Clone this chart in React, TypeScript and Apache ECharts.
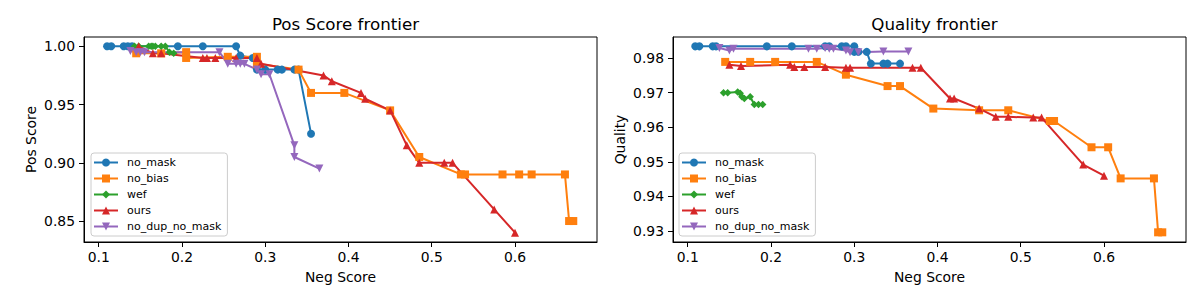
import React, { useEffect, useRef } from "react";
import * as echarts from "echarts";

const seriesNames = ["no_mask", "no_bias", "wef", "ours", "no_dup_no_mask"];
const seriesColors = ["#1f77b4", "#ff7f0e", "#2ca02c", "#d62728", "#9467bd"];
const seriesSymbols = ["circle", "rect", "diamond", "triangle", "triangle"];
const seriesRotations = [0, 0, 0, 0, 180];

// Pos Score frontier: [Neg Score, Pos Score]
const noMaskPos = [
  [0.11, 1.0], [0.115, 1.0], [0.13, 1.0], [0.135, 1.0], [0.14, 1.0], [0.195, 1.0],
  [0.225, 1.0], [0.265, 1.0], [0.27, 0.992], [0.285, 0.99], [0.29, 0.98], [0.3, 0.98],
  [0.315, 0.98], [0.32, 0.98], [0.335, 0.98], [0.34, 0.98], [0.355, 0.925],
];
const noBiasPos = [
  [0.145, 0.994], [0.175, 0.994], [0.205, 0.995], [0.205, 0.99], [0.255, 0.991],
  [0.29, 0.991], [0.29, 0.985], [0.34, 0.98], [0.355, 0.96], [0.395, 0.96],
  [0.45, 0.945], [0.485, 0.905], [0.535, 0.89], [0.54, 0.89], [0.585, 0.89],
  [0.605, 0.89], [0.62, 0.89], [0.66, 0.89], [0.665, 0.85], [0.67, 0.85],
];
const wefPos = [
  [0.143, 1.0], [0.148, 1.0], [0.16, 1.0], [0.163, 1.0], [0.165, 1.0], [0.168, 1.0],
  [0.175, 1.0], [0.18, 1.0], [0.185, 0.995], [0.19, 0.994],
];
const oursPos = [
  [0.148, 1.0], [0.165, 0.994], [0.175, 0.994], [0.225, 0.99], [0.23, 0.99], [0.24, 0.99],
  [0.265, 0.99], [0.29, 0.99], [0.295, 0.985], [0.37, 0.975], [0.38, 0.97], [0.415, 0.96],
  [0.42, 0.955], [0.45, 0.945], [0.47, 0.915], [0.485, 0.9], [0.515, 0.9], [0.525, 0.9],
  [0.575, 0.86], [0.6, 0.84],
];
const noDupNoMaskPos = [
  [0.138, 0.996], [0.145, 0.995], [0.15, 0.995], [0.155, 0.995], [0.245, 0.995],
  [0.255, 0.985], [0.265, 0.985], [0.27, 0.985], [0.275, 0.985], [0.29, 0.98],
  [0.295, 0.976], [0.305, 0.976], [0.335, 0.915], [0.335, 0.905], [0.365, 0.895],
];

// Quality frontier: [Neg Score, Quality]
const noMaskQuality = [
  [0.109, 0.9834], [0.114, 0.9834], [0.13, 0.9834], [0.134, 0.9834], [0.195, 0.9834],
  [0.225, 0.9834], [0.265, 0.9834], [0.27, 0.9834], [0.285, 0.9834], [0.29, 0.9834],
  [0.3, 0.9834], [0.3, 0.9818], [0.305, 0.9818], [0.315, 0.9818], [0.32, 0.9784],
  [0.335, 0.9784], [0.34, 0.9784], [0.355, 0.9784],
];
const noBiasQuality = [
  [0.145, 0.9789], [0.175, 0.9789], [0.205, 0.9789], [0.255, 0.9789], [0.29, 0.9752],
  [0.34, 0.9719], [0.355, 0.9719], [0.395, 0.9654], [0.45, 0.9649], [0.485, 0.9649],
  [0.535, 0.9618], [0.54, 0.9618], [0.585, 0.9542], [0.605, 0.9542], [0.62, 0.9452],
  [0.66, 0.9452], [0.665, 0.9296], [0.67, 0.9296],
];
const wefQuality = [
  [0.143, 0.97], [0.148, 0.97], [0.16, 0.9702], [0.163, 0.9698], [0.165, 0.9688],
  [0.168, 0.9683], [0.175, 0.9688], [0.18, 0.9666], [0.185, 0.9666], [0.19, 0.9666],
];
const oursQuality = [
  [0.15, 0.9781], [0.164, 0.9777], [0.223, 0.9781], [0.228, 0.9774], [0.24, 0.9774],
  [0.265, 0.9774], [0.29, 0.9772], [0.295, 0.9772], [0.37, 0.9772], [0.38, 0.9772],
  [0.415, 0.9683], [0.42, 0.9683], [0.45, 0.9654], [0.47, 0.963], [0.485, 0.963],
  [0.515, 0.9628], [0.525, 0.9628], [0.575, 0.9492], [0.6, 0.946],
];
const noDupNoMaskQuality = [
  [0.138, 0.9829], [0.15, 0.9822], [0.155, 0.9827], [0.245, 0.9827], [0.255, 0.9827],
  [0.265, 0.9829], [0.27, 0.9827], [0.275, 0.9827], [0.29, 0.9822], [0.295, 0.9817],
  [0.305, 0.9817], [0.335, 0.9819], [0.365, 0.9819],
];

const posSeriesData = [noMaskPos, noBiasPos, wefPos, oursPos, noDupNoMaskPos];
const qualitySeriesData = [noMaskQuality, noBiasQuality, wefQuality, oursQuality, noDupNoMaskQuality];

const xTicks = [0.1, 0.2, 0.3, 0.4, 0.5, 0.6];
const posTicks = [0.85, 0.9, 0.95, 1.0];
const qualityTicks = [0.93, 0.94, 0.95, 0.96, 0.97, 0.98];

const titles = ["Pos Score frontier", "Quality frontier"];
const xAxisName = "Neg Score";
const yAxisNames = ["Pos Score", "Quality"];

const FONT = "DejaVu Sans";

export default function App() {
  const ref = useRef<HTMLDivElement>(null);

  useEffect(() => {
    document.body.style.margin = "0";
    const chart = echarts.init(ref.current!, null, { renderer: "svg" });

    const gridLefts = [84, 673];
    const gridWidth = 513;
    const gridTop = 37;
    const gridHeight = 205;

    const xAxisBase = (i: number) => ({
      type: "value",
      gridIndex: i,
      min: 0.0823,
      max: 0.6985,
      name: xAxisName,
      nameLocation: "middle",
      nameGap: 28,
      nameTextStyle: { color: "#000", fontSize: 13.9, fontFamily: FONT },
      axisLine: { show: true, onZero: false, lineStyle: { color: "#000", width: 1 } },
      axisTick: { show: true, inside: false, length: 5, customValues: xTicks, lineStyle: { color: "#000" } },
      axisLabel: {
        show: true,
        customValues: xTicks,
        margin: 8,
        color: "#000",
        fontSize: 13.9,
        fontFamily: FONT,
        formatter: (v: number) => v.toFixed(1),
      },
      splitLine: { show: false },
    });

    const yAxisBase = (i: number, min: number, max: number, ticks: number[], fmt: number) => ({
      type: "value",
      gridIndex: i,
      min,
      max,
      name: yAxisNames[i],
      nameLocation: "middle",
      nameGap: 46,
      nameTextStyle: { color: "#000", fontSize: 13.9, fontFamily: FONT },
      axisLine: { show: true, onZero: false, lineStyle: { color: "#000", width: 1 } },
      axisTick: { show: true, inside: false, length: 5, customValues: ticks, lineStyle: { color: "#000" } },
      axisLabel: {
        show: true,
        customValues: ticks,
        margin: 9,
        color: "#000",
        fontSize: 13.9,
        fontFamily: FONT,
        formatter: (v: number) => v.toFixed(fmt),
      },
      splitLine: { show: false },
    });

    const makeSeries = (data: number[][][], gi: number) =>
      data.map((d, k) => ({
        name: seriesNames[k],
        type: "line",
        xAxisIndex: gi,
        yAxisIndex: gi,
        data: d,
        symbol: seriesSymbols[k],
        symbolRotate: seriesRotations[k],
        symbolSize: seriesSymbols[k] === "diamond" ? 7.5 : 8,
        showSymbol: true,
        showAllSymbol: true,
        color: seriesColors[k],
        itemStyle: { color: seriesColors[k] },
        lineStyle: { color: seriesColors[k], width: 2 },
        emphasis: { disabled: true },
        clip: false,
      }));

    const legendBase = (left: number) => ({
      data: seriesNames,
      orient: "vertical",
      left,
      top: 153,
      padding: [4, 6, 4, 2],
      itemWidth: 24,
      itemHeight: 10,
      itemGap: 5,
      backgroundColor: "rgba(255,255,255,0.8)",
      borderColor: "#cccccc",
      borderWidth: 1,
      borderRadius: 3,
      selectedMode: false,
      textStyle: { color: "#000", fontSize: 11, fontFamily: FONT, padding: [0, 0, 0, 4] },
    });

    chart.setOption({
      animation: false,
      backgroundColor: "#fff",
      textStyle: { fontFamily: FONT },
      title: titles.map((t, i) => ({
        text: t,
        left: gridLefts[i] + gridWidth / 2,
        top: 10,
        textAlign: "center",
        textStyle: { color: "#000", fontSize: 16.7, fontWeight: "normal", fontFamily: FONT },
      })),
      grid: gridLefts.map((l) => ({
        left: l,
        top: gridTop,
        width: gridWidth,
        height: gridHeight,
        show: true,
        borderColor: "#000",
        borderWidth: 1,
        backgroundColor: "transparent",
        containLabel: false,
      })),
      xAxis: [xAxisBase(0), xAxisBase(1)],
      yAxis: [
        yAxisBase(0, 0.832, 1.008, posTicks, 2),
        yAxisBase(1, 0.9268, 0.9861, qualityTicks, 2),
      ],
      legend: [legendBase(91), legendBase(679)],
      series: [...makeSeries(posSeriesData, 0), ...makeSeries(qualitySeriesData, 1)],
    });

    return () => chart.dispose();
  }, []);

  return (
    <div
      ref={ref}
      style={{ position: "fixed", left: 0, top: 0, width: 1200, height: 300, background: "#fff" }}
    />
  );
}
